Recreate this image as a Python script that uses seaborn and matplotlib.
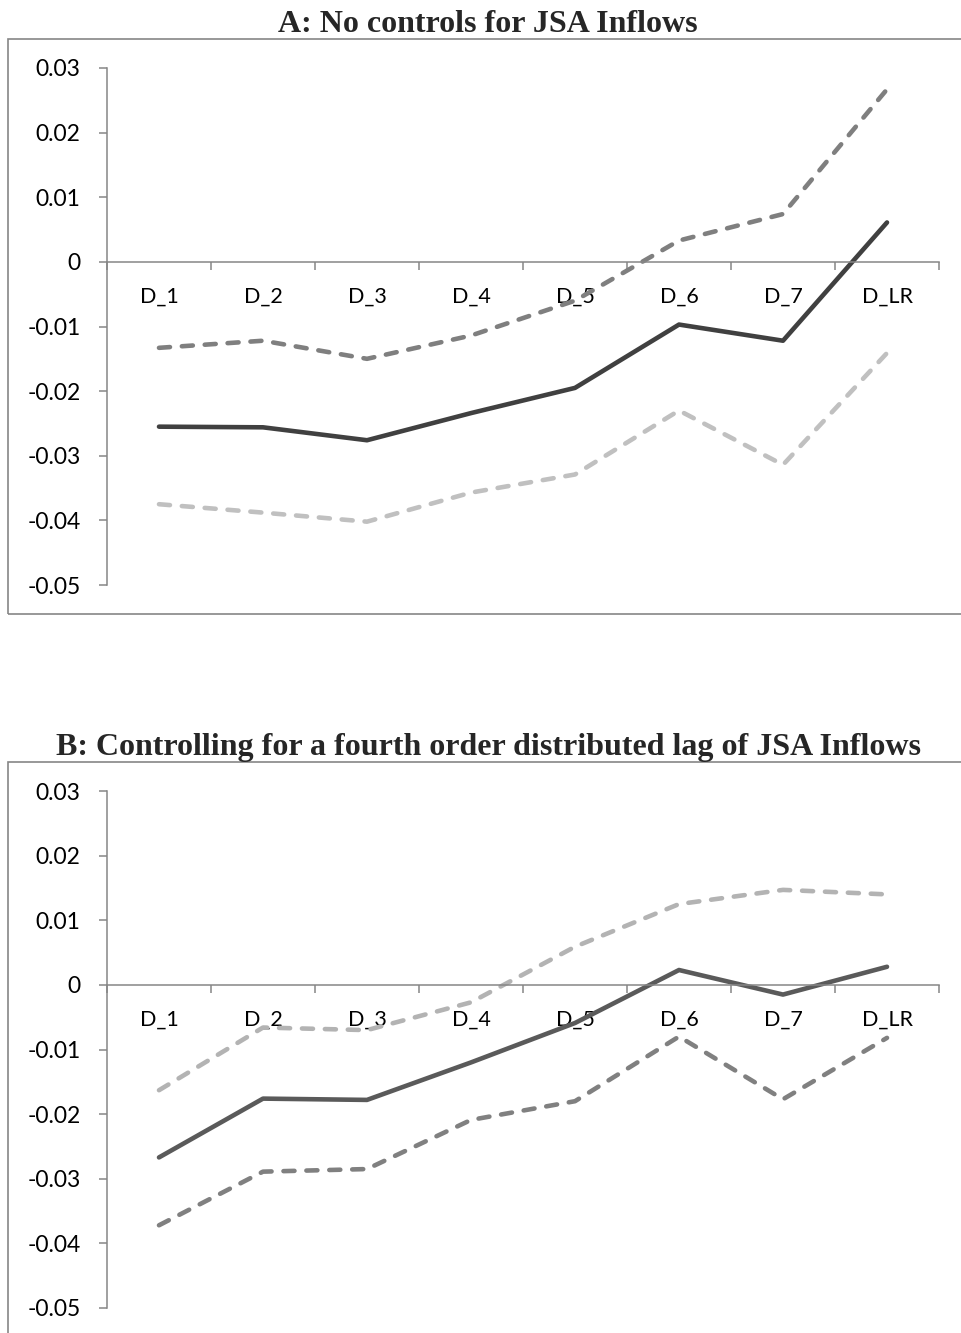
import matplotlib
matplotlib.use('Agg')
import matplotlib.pyplot as plt
import seaborn as sns
import numpy as np
import pandas as pd
from matplotlib.patches import Rectangle

# categories and tick labels
categories = ['D_1', 'D_2', 'D_3', 'D_4', 'D_5', 'D_6', 'D_7', 'D_LR']
y_ticks = [0.03, 0.02, 0.01, 0.0, -0.01, -0.02, -0.03, -0.04, -0.05]
y_tick_labels = ['0.03', '0.02', '0.01', '0', '-0.01', '-0.02', '-0.03', '-0.04', '-0.05']

title_a = 'A: No controls for JSA Inflows'
title_b = 'B: Controlling for a fourth order distributed lag of JSA Inflows'

# panel A: upper band, estimate, lower band
a_upper = [-0.0133, -0.0122, -0.0150, -0.0114, -0.0060, 0.0033, 0.0074, 0.0267]
a_est = [-0.0255, -0.0256, -0.0276, -0.0234, -0.0195, -0.0097, -0.0122, 0.0061]
a_lower = [-0.0375, -0.0388, -0.0402, -0.0357, -0.0329, -0.0230, -0.0314, -0.0141]

# panel B
b_upper = [-0.0163, -0.0066, -0.0070, -0.0027, 0.0059, 0.0125, 0.0147, 0.0140]
b_est = [-0.0267, -0.0176, -0.0178, -0.0120, -0.0059, 0.0023, -0.0015, 0.0028]
b_lower = [-0.0372, -0.0289, -0.0285, -0.0209, -0.0180, -0.0080, -0.0177, -0.0082]

W, H = 962, 1333
AXIS_GRAY = '#868686'

sns.set_style('white')
plt.rcParams['font.family'] = ['Lato', 'DejaVu Sans']
plt.rcParams['axes.unicode_minus'] = False

fig = plt.figure(figsize=(W / 100, H / 100), dpi=100)


def draw_panel(ax, lines):
    x = np.arange(len(categories))
    for vals, color, style in lines:
        df = pd.DataFrame({'x': x, 'y': vals})
        if style == 'solid':
            sns.lineplot(data=df, x='x', y='y', ax=ax, color=color, lw=3.3,
                         sort=False, solid_capstyle='round', solid_joinstyle='round')
        else:
            sns.lineplot(data=df, x='x', y='y', ax=ax, color=color, lw=3.3,
                         sort=False, linestyle=(0, (2.4, 2.6)),
                         dash_capstyle='round', dash_joinstyle='round')
    ax.set_xlim(-0.5, len(categories) - 0.5)
    ax.set_ylim(-0.05, 0.03)
    ax.set_xlabel('')
    ax.set_ylabel('')

    for s in ['top', 'right']:
        ax.spines[s].set_visible(False)
    ax.spines['bottom'].set_position(('data', 0))
    for s in ['left', 'bottom']:
        ax.spines[s].set_color(AXIS_GRAY)
        ax.spines[s].set_linewidth(1.1)

    ax.set_yticks(y_ticks)
    ax.set_yticklabels(y_tick_labels)
    ax.tick_params(axis='y', left=True, direction='out', length=6, width=1.1,
                   color=AXIS_GRAY, pad=13, labelsize=16.5, labelcolor='black')

    ax.set_xticks(np.arange(-0.5, len(categories), 1.0))
    ax.set_xticklabels([])
    ax.set_xticks(x, minor=True)
    ax.set_xticklabels(categories, minor=True)
    ax.tick_params(axis='x', which='major', bottom=True, direction='out',
                   length=6, width=1.1, color=AXIS_GRAY)
    ax.tick_params(axis='x', which='minor', bottom=True, length=0, pad=18,
                   labelsize=15.5, labelcolor='black')
    ax.patch.set_alpha(0)


# outer frames
fig.patches.append(Rectangle((8 / W, (H - 614) / H), 1.2, (614 - 39) / H,
                             transform=fig.transFigure, fill=False,
                             edgecolor=AXIS_GRAY, lw=1.2))
fig.patches.append(Rectangle((8 / W, -0.1), 1.2, (H - 762) / H + 0.1,
                             transform=fig.transFigure, fill=False,
                             edgecolor=AXIS_GRAY, lw=1.2))

ax_a = fig.add_axes([107 / W, (H - 585) / H, 832 / W, 517 / H])
draw_panel(ax_a, [(a_upper, '#7f7f7f', 'dash'),
                  (a_est, '#404040', 'solid'),
                  (a_lower, '#c0c0c0', 'dash')])

ax_b = fig.add_axes([107 / W, (H - 1308) / H, 832 / W, 517 / H])
draw_panel(ax_b, [(b_upper, '#b3b3b3', 'dash'),
                  (b_est, '#5a5a5a', 'solid'),
                  (b_lower, '#808080', 'dash')])

fig.text(488 / W, (H - 32) / H, title_a, ha='center', va='baseline',
         fontsize=23, fontweight='bold', family='Liberation Serif')
fig.text(489 / W, (H - 755) / H, title_b, ha='center', va='baseline',
         fontsize=23, fontweight='bold', family='Liberation Serif')

fig.savefig('out.png', dpi=100)
